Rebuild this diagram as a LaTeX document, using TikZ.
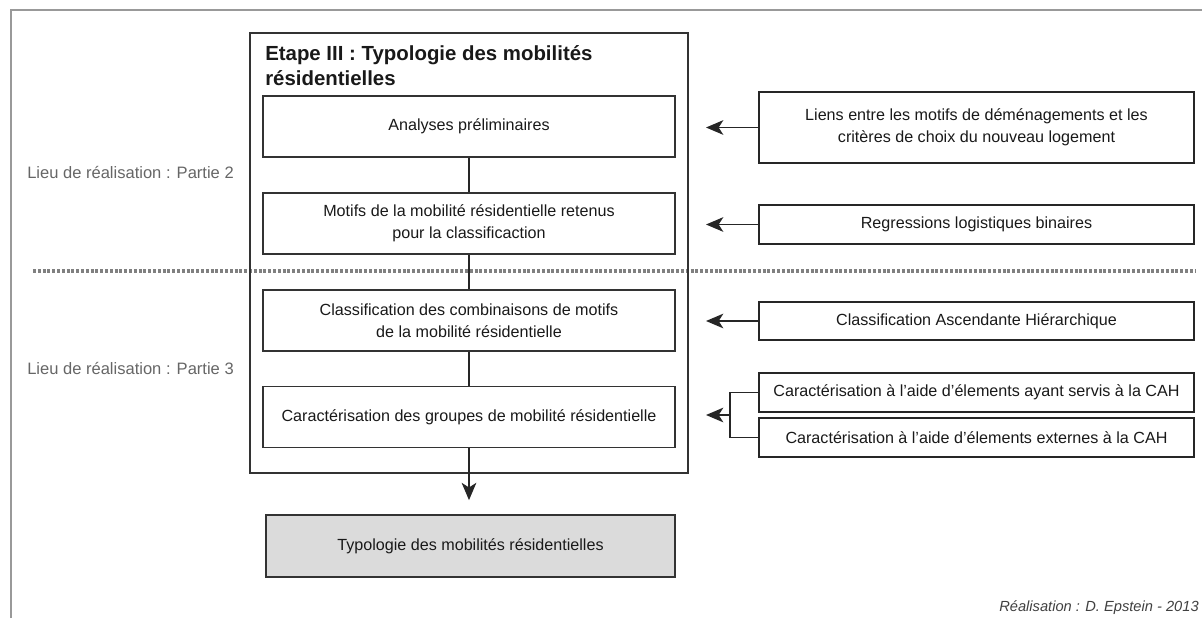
\documentclass[tikz,border=0pt]{standalone}
\usepackage{fontspec}
\setmainfont{Liberation Sans}
\usetikzlibrary{arrows.meta}
\begin{document}
\begin{tikzpicture}[x=0.75pt, y=-0.75pt, line join=miter,
	fleche/.style={black!85, line width=1.1pt, -{Stealth[length=13pt, width=11pt, inset=3.5pt]}},
	lien/.style={black!85, line width=1.1pt},
	etape/.style={draw=black!80, line width=1.3pt, align=center, inner sep=1pt, text=black!90,
		minimum width=309pt, minimum height=45.75pt, font=\fontsize{12.1}{16.5}\selectfont},
	methode/.style={draw=black!85, line width=1.3pt, align=center, inner sep=1pt, text=black!90,
		minimum width=326.25pt, minimum height=29pt, font=\fontsize{12.1}{16.5}\selectfont},
	lieu/.style={anchor=west, inner sep=0pt, text=black!60, font=\fontsize{12.4}{14}\selectfont}]
			\def\cadrecolor{black!40}
			\def\typocolor{black!14}
			\useasboundingbox (0,0) rectangle (1202,618);
			% cadre et separation des parties
			\draw[\cadrecolor, line width=1.6pt] (11,618) -- (11,10) -- (1202,10);
			\draw[black!50, line width=2.6pt, dash pattern=on 2.2pt off 1.4pt] (33,271) -- (1195,271);
			\node[lieu] (partie2) at (27,172) {Lieu de réalisation : Partie 2};
			\node[lieu] (partie3) at (27,368) {Lieu de réalisation : Partie 3};
			% etape III
			\draw[black!80, line width=1.3pt] (250,33) rectangle (688,473);
			\node[anchor=north west, inner sep=0pt, align=left, text=black!90,
				font=\bfseries\fontsize{15.3}{18.75}\selectfont] (titre) at (265,45)
				{Etape III : Typologie des mobilités\\résidentielles};
			\node[etape] (analyses) at (469,126.5) {Analyses préliminaires};
			\node[etape] (motifs) at (469,223.5) {Motifs de la mobilité résidentielle retenus\\pour la classificaction};
			\node[etape] (classif) at (469,320.5) {Classification des combinaisons de motifs\\de la mobilité résidentielle};
			\node[etape] (groupes) at (469,417) {Caractérisation des groupes de mobilité résidentielle};
			\node[etape, fill=\typocolor, minimum width=306.75pt, minimum height=46.5pt] (typo) at (470.5,546) {Typologie des mobilités résidentielles};
			\draw[lien] (analyses) -- (motifs) (motifs) -- (classif) (classif) -- (groupes);
			\draw[fleche, shorten >=10.5pt] (groupes.south) -- (groupes.south |- typo.north);
			% methodes
			\node[methode, minimum height=53.25pt] (liens) at (976.5,127.5) {Liens entre les motifs de déménagements et les\\critères de choix du nouveau logement};
			\node[methode] (regr) at (976.5,224.5) {Regressions logistiques binaires};
			\node[methode] (cah) at (976.5,321) {Classification Ascendante Hiérarchique};
			\node[methode] (servis) at (976.5,392.5) {Caractérisation à l’aide d’élements ayant servis à la CAH};
			\node[methode] (externes) at (976.5,437.5) {Caractérisation à l’aide d’élements externes à la CAH};
			\coordinate (tip) at (706,0);
			\coordinate (fourche) at (730,415);
			\foreach \n in {liens,regr,cah}
				\draw[fleche] (\n.west) -- (\n.west -| tip);
			\draw[lien] (servis.west) -| (fourche) |- (externes.west);
			\draw[fleche] (fourche) -- (fourche -| tip);
			\node[anchor=east, inner sep=0pt, text=black!75, font=\itshape\fontsize{11}{13}\selectfont] (credit) at (1199,608) {Réalisation : D. Epstein - 2013};
	\end{tikzpicture}
\end{document}
